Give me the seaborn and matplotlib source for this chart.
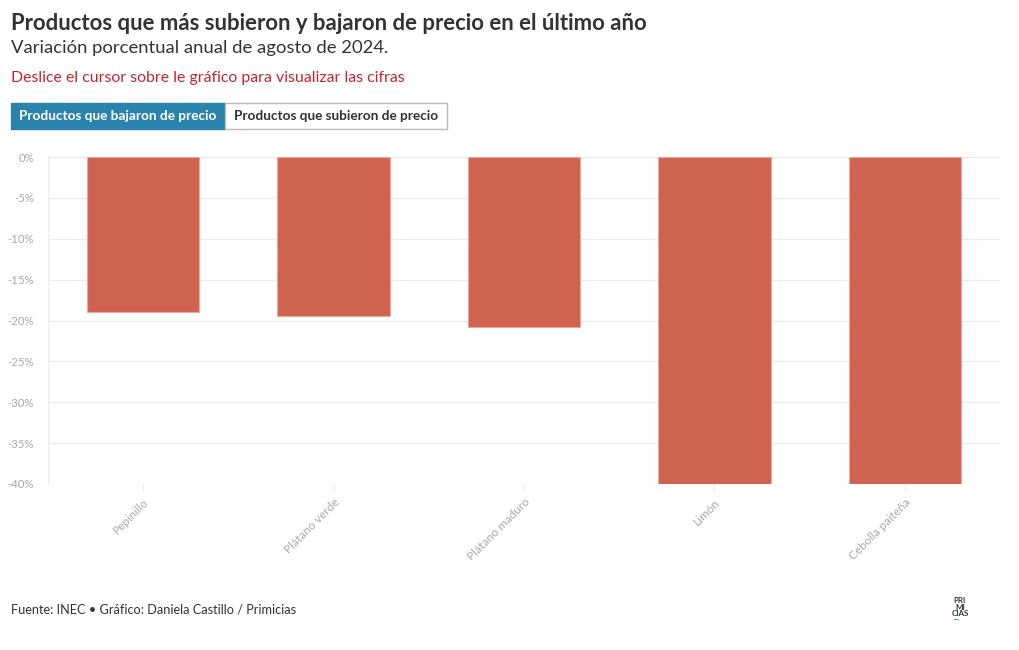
"""
Productos que más subieron y bajaron de precio en el último año (Primicias)
"""

import matplotlib.pyplot as plt
import pandas as pd
import seaborn as sns
from matplotlib.patches import Rectangle
from matplotlib.ticker import FuncFormatter, MultipleLocator

productos = ["Pepinillo", "Plátano verde", "Plátano maduro", "Limón", "Cebolla paiteña"]
variacion = [-19.0, -19.4, -20.8, -40.0, -40.0]

BAR_COLOR = "#d06350"
GRID_COLOR = "#ececec"
TICK_COLOR = "#a8a8a8"
TEXT_COLOR = "#333333"
FONT = ["Lato", "DejaVu Sans"]

W, H = 1020, 650


def fx(px):
    return px / W


def fy(px):
    return 1 - px / H


sns.set_theme(style="white")
plt.rcParams["font.family"] = FONT

df = pd.DataFrame({"producto": productos, "variacion": variacion})

fig = plt.figure(figsize=(W / 100, H / 100), dpi=100)
ax = fig.add_axes([fx(48), fy(484), fx(1000) - fx(48), fy(157) - fy(484)])

sns.barplot(
    data=df,
    x="producto",
    y="variacion",
    color=BAR_COLOR,
    width=0.59,
    saturation=1,
    edgecolor="#e8a89c",
    linewidth=0.8,
    ax=ax,
    zorder=3,
)

ax.set_xlim(-0.5, len(productos) - 0.5)
ax.set_ylim(-40, 0)
ax.yaxis.set_major_locator(MultipleLocator(5))
ax.yaxis.set_major_formatter(FuncFormatter(lambda v, _: f"{v:.0f}%"))
ax.grid(axis="y", color=GRID_COLOR, lw=1, zorder=0)
ax.set_axisbelow(True)
for side in ("top", "right", "bottom"):
    ax.spines[side].set_visible(False)
ax.spines["left"].set_color(GRID_COLOR)
ax.spines["left"].set_linewidth(1)
ax.set(xlabel=None, ylabel=None)

ax.tick_params(axis="y", length=0, pad=10, labelsize=8.2, labelcolor=TICK_COLOR)
ax.tick_params(
    axis="x", length=5, width=0.8, color=GRID_COLOR, pad=4,
    labelsize=8.6, labelcolor=TICK_COLOR, bottom=True,
)
for lbl in ax.get_xticklabels():
    lbl.set_rotation(45)
    lbl.set_ha("right")
    lbl.set_rotation_mode("anchor")

# Cabecera
fig.text(fx(11), fy(23), "Productos que más subieron y bajaron de precio en el último año",
         fontsize=15.9, fontweight="bold", color=TEXT_COLOR, va="center")
fig.text(fx(11), fy(48), "Variación porcentual anual de agosto de 2024.",
         fontsize=13.3, color=TEXT_COLOR, va="center")
fig.text(fx(11), fy(78), "Deslice el cursor sobre le gráfico para visualizar las cifras",
         fontsize=11.4, color="#c0272d", va="center")

# Botones
fig.add_artist(Rectangle((fx(11), fy(129)), fx(225) - fx(11), fy(103) - fy(129),
                         transform=fig.transFigure, fc="#2a83ad", ec="#2a83ad", lw=1))
fig.add_artist(Rectangle((fx(225), fy(129)), fx(447) - fx(225), fy(103) - fy(129),
                         transform=fig.transFigure, fc="white", ec="#bbbbbb", lw=1))
fig.text(fx(118), fy(116), "Productos que bajaron de precio", fontsize=9.8,
         fontweight="bold", color="white", ha="center", va="center")
fig.text(fx(336), fy(116), "Productos que subieron de precio", fontsize=9.8,
         fontweight="bold", color=TEXT_COLOR, ha="center", va="center")

# Pie
fig.text(fx(11), fy(610), "Fuente: INEC • Gráfico: Daniela Castillo / Primicias",
         fontsize=9.2, color=TEXT_COLOR, va="center")
fig.text(fx(960), fy(607), "PRI\nMI\nCIAS", fontsize=5.8, fontweight="bold",
         color=TEXT_COLOR, ha="center", va="center", linespacing=0.85)
fig.add_artist(Rectangle((fx(954), fy(620)), fx(5), fy(619) - fy(620),
                         transform=fig.transFigure, fc="#3fa9d8", ec="none"))

fig.savefig("out.png", dpi=100)
